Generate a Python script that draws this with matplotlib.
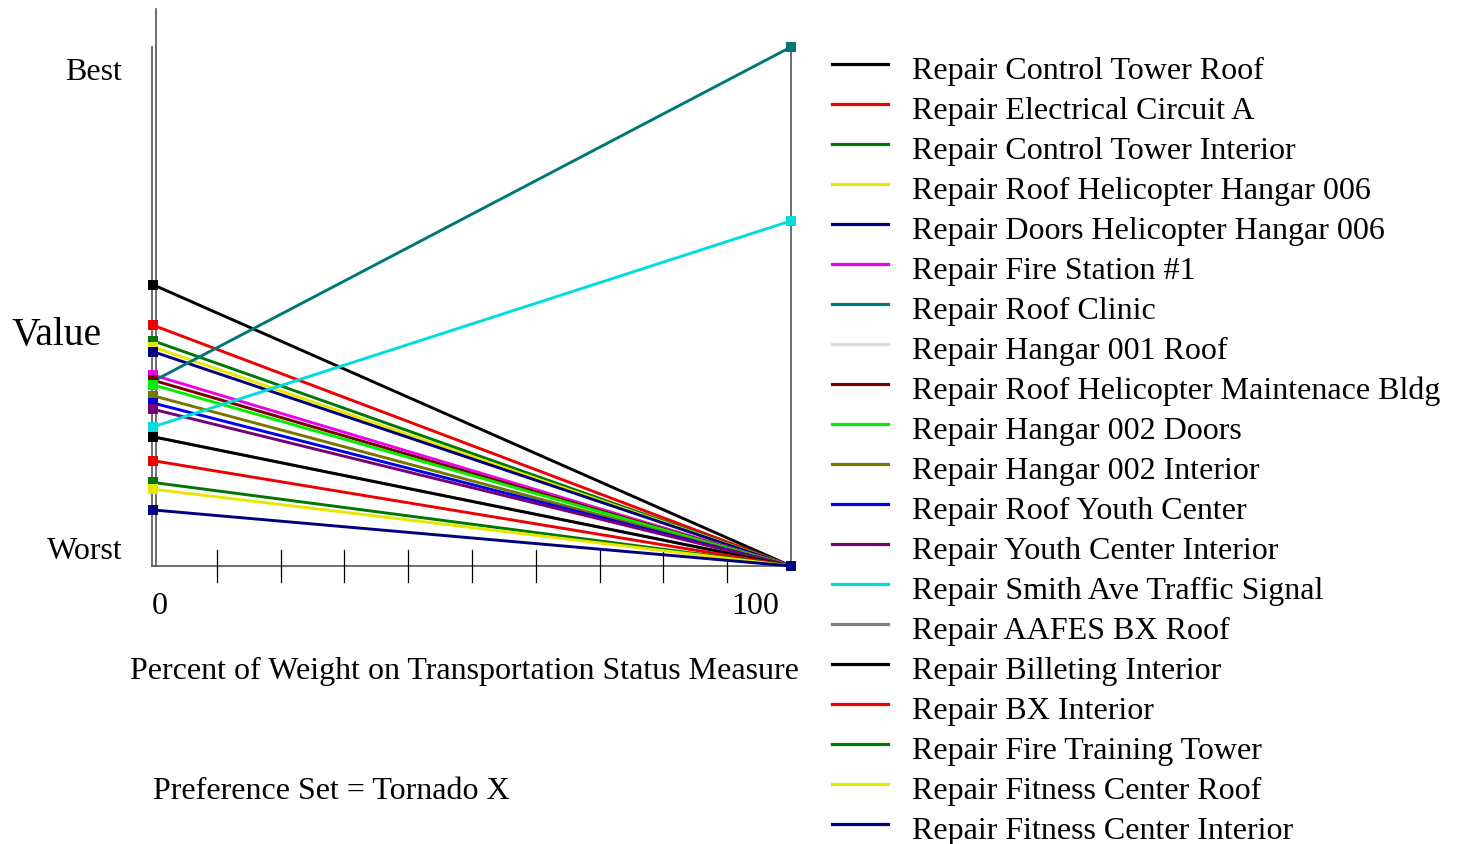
import matplotlib.pyplot as plt
from matplotlib.lines import Line2D

plt.rcParams['font.family'] = ['Liberation Serif', 'DejaVu Serif']

W, H = 1461, 845

# projects, colours and the value at 0% and 100% weight
names = ['Repair Control Tower Roof', 'Repair Electrical Circuit A', 'Repair Control Tower Interior',
         'Repair Roof Helicopter Hangar 006', 'Repair Doors Helicopter Hangar 006', 'Repair Fire Station #1',
         'Repair Roof Clinic', 'Repair Hangar 001 Roof', 'Repair Roof Helicopter Maintenace Bldg',
         'Repair Hangar 002 Doors', 'Repair Hangar 002 Interior', 'Repair Roof Youth Center',
         'Repair Youth Center Interior', 'Repair Smith Ave Traffic Signal', 'Repair AAFES BX Roof',
         'Repair Billeting Interior', 'Repair BX Interior', 'Repair Fire Training Tower',
         'Repair Fitness Center Roof', 'Repair Fitness Center Interior']
colors = ['#000000', '#ee0000', '#007700', '#e6e600', '#000080', '#ee00ee',
          '#007777', '#dddddd', '#770000', '#00ee00', '#777700', '#0000ee',
          '#770077', '#00dddd', '#808080', '#000000', '#ee0000', '#007700',
          '#e6e600', '#000080']
value_at_0 = [0.542, 0.464, 0.434, 0.422, 0.413, 0.368, 0.356, 0.358, 0.358, 0.349,
              0.328, 0.314, 0.302, 0.268, 0.249, 0.249, 0.203, 0.161, 0.148, 0.108]
value_at_100 = [0, 0, 0, 0, 0, 0, 1.0, 0, 0, 0, 0, 0, 0, 0.665, 0, 0, 0, 0, 0, 0]
weights = [0, 100]
minor_ticks = [10, 20, 30, 40, 50, 60, 70, 80, 90]

fig = plt.figure(figsize=(W / 100, H / 100), dpi=100)
x0, x1, y0, y1 = 153, 791, 567, 48
ax = fig.add_axes([x0 / W, 1 - y0 / H, (x1 - x0) / W, (y0 - y1) / H])
ax.set_xlim(0, 100)
ax.set_ylim(0, 1)
ax.axis('off')

def fx(px):
    return px / W

def fy(py):
    return 1 - py / H

# frame lines (drawn below the data)
gray = '#555555'
ax.plot([-0.15, -0.15], [0, 1], color=gray, lw=1.2, clip_on=False, zorder=0)
ax.plot([0.5, 0.5], [0, 1.073], color=gray, lw=1.2, clip_on=False, zorder=0)
ax.plot([100, 100], [0, 1], color=gray, lw=1.2, clip_on=False, zorder=0)
ax.plot([-0.15, 100], [0, 0], color=gray, lw=1.2, clip_on=False, zorder=0)
for t in minor_ticks:
    ax.plot([t, t], [-0.03, 0.03], color='black', lw=0.9, clip_on=False, zorder=0)

for n, c, a, b in zip(names, colors, value_at_0, value_at_100):
    ax.plot(weights, [a, b], color=c, lw=2.1, marker='s', ms=6.5, mew=0,
            clip_on=False, solid_capstyle='butt')

fs = 23
fig.text(fx(122), fy(80), 'Best', fontsize=fs, ha='right', va='baseline')
fig.text(fx(123), fy(559), 'Worst', fontsize=fs, ha='right', va='baseline')
fig.text(fx(11), fy(345), 'Value', fontsize=28.5, ha='left', va='baseline')
fig.text(fx(160), fy(614), '0', fontsize=fs, ha='center', va='baseline')
fig.text(fx(755), fy(614), '100', fontsize=fs, ha='center', va='baseline')
fig.text(fx(130), fy(679), 'Percent of Weight on Transportation Status Measure', fontsize=fs, ha='left', va='baseline')
fig.text(fx(153), fy(799), 'Preference Set = Tornado X', fontsize=fs, ha='left', va='baseline')

# legend
for i, (n, c) in enumerate(zip(names, colors)):
    base = 79.5 + 40 * i
    fig.add_artist(Line2D([fx(832), fx(888)], [fy(base - 15), fy(base - 15)], color=c, lw=2.3))
    fig.text(fx(912), fy(base), n, fontsize=fs, ha='left', va='baseline')

fig.savefig('out.png', dpi=100)
